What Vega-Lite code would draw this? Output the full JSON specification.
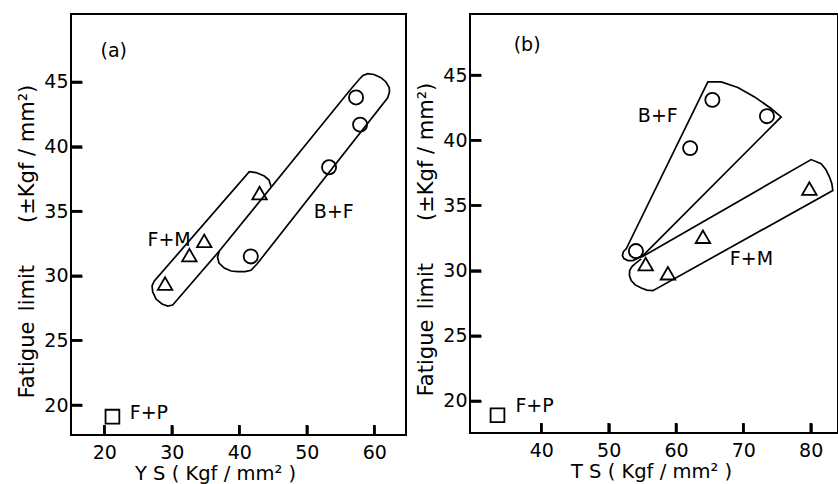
{
  "$schema": "https://vega.github.io/schema/vega-lite/v6.json",
  "padding": {"left": 15, "top": 13, "right": 0, "bottom": 0},
  "spacing": 7,
  "background": "white",
  "config": {
    "view": {"stroke": "black", "strokeWidth": 2},
    "font": "DejaVu Sans",
    "axis": {
      "grid": false,
      "domain": false,
      "labelFont": "DejaVu Sans",
      "labelFontSize": 19,
      "labelColor": "black",
      "titleFont": "DejaVu Sans",
      "titleFontWeight": "normal",
      "titleColor": "black"
    }
  },
  "datasets": {
    "a_pts": [
      {"x": 29.0, "y": 29.4, "phase": "F+M"},
      {"x": 32.6, "y": 31.6, "phase": "F+M"},
      {"x": 34.8, "y": 32.7, "phase": "F+M"},
      {"x": 43.0, "y": 36.4, "phase": "F+M"},
      {"x": 41.7, "y": 31.5, "phase": "B+F"},
      {"x": 53.3, "y": 38.4, "phase": "B+F"},
      {"x": 57.3, "y": 43.8, "phase": "B+F"},
      {"x": 57.9, "y": 41.7, "phase": "B+F"},
      {"x": 21.2, "y": 19.1, "phase": "F+P"}
    ],
    "b_pts": [
      {"x": 54.05, "y": 31.5, "phase": "B+F"},
      {"x": 62.1, "y": 39.4, "phase": "B+F"},
      {"x": 65.4, "y": 43.1, "phase": "B+F"},
      {"x": 73.5, "y": 41.85, "phase": "B+F"},
      {"x": 55.5, "y": 30.5, "phase": "F+M"},
      {"x": 58.8, "y": 29.8, "phase": "F+M"},
      {"x": 64.0, "y": 32.6, "phase": "F+M"},
      {"x": 79.8, "y": 36.3, "phase": "F+M"},
      {"x": 33.5, "y": 18.9, "phase": "F+P"}
    ],
    "a_xticks": [{"v": 20}, {"v": 30}, {"v": 40}, {"v": 50}, {"v": 60}],
    "b_xticks": [{"v": 40}, {"v": 50}, {"v": 60}, {"v": 70}, {"v": 80}],
    "yticks": [{"v": 20}, {"v": 25}, {"v": 30}, {"v": 35}, {"v": 40}, {"v": 45}],
    "a_outline": [
      {"g": "F+M", "i": 1, "x": 44.70, "y": 36.91},
      {"g": "F+M", "i": 2, "x": 44.40, "y": 37.41},
      {"g": "F+M", "i": 3, "x": 43.70, "y": 37.72},
      {"g": "F+M", "i": 4, "x": 42.47, "y": 37.99},
      {"g": "F+M", "i": 5, "x": 41.48, "y": 38.06},
      {"g": "F+M", "i": 6, "x": 27.41, "y": 29.60},
      {"g": "F+M", "i": 7, "x": 27.07, "y": 29.21},
      {"g": "F+M", "i": 8, "x": 27.17, "y": 28.75},
      {"g": "F+M", "i": 9, "x": 27.66, "y": 28.20},
      {"g": "F+M", "i": 10, "x": 28.55, "y": 27.82},
      {"g": "F+M", "i": 11, "x": 29.39, "y": 27.66},
      {"g": "F+M", "i": 12, "x": 30.13, "y": 27.74},
      {"g": "F+M", "i": 13, "x": 37.04, "y": 31.92},
      {"g": "B+F", "i": 1, "x": 37.04, "y": 31.92},
      {"g": "B+F", "i": 2, "x": 36.77, "y": 31.46},
      {"g": "B+F", "i": 3, "x": 36.99, "y": 30.99},
      {"g": "B+F", "i": 4, "x": 37.78, "y": 30.60},
      {"g": "B+F", "i": 5, "x": 38.77, "y": 30.37},
      {"g": "B+F", "i": 6, "x": 39.76, "y": 30.32},
      {"g": "B+F", "i": 7, "x": 40.84, "y": 30.33},
      {"g": "B+F", "i": 8, "x": 41.73, "y": 30.43},
      {"g": "B+F", "i": 9, "x": 42.62, "y": 30.91},
      {"g": "B+F", "i": 10, "x": 61.99, "y": 43.78},
      {"g": "B+F", "i": 11, "x": 62.25, "y": 44.23},
      {"g": "B+F", "i": 12, "x": 62.22, "y": 44.56},
      {"g": "B+F", "i": 13, "x": 61.73, "y": 45.00},
      {"g": "B+F", "i": 14, "x": 61.00, "y": 45.33},
      {"g": "B+F", "i": 15, "x": 59.96, "y": 45.58},
      {"g": "B+F", "i": 16, "x": 59.02, "y": 45.64},
      {"g": "B+F", "i": 17, "x": 58.33, "y": 45.50},
      {"g": "B+F", "i": 18, "x": 57.78, "y": 45.21},
      {"g": "B+F", "i": 19, "x": 56.30, "y": 44.30},
      {"g": "B+F", "i": 20, "x": 37.04, "y": 31.92}
    ],
    "b_outline": [
      {"g": "B+F", "i": 1, "x": 55.09, "y": 31.15},
      {"g": "B+F", "i": 2, "x": 75.61, "y": 41.79},
      {"g": "B+F", "i": 3, "x": 74.12, "y": 42.44},
      {"g": "B+F", "i": 4, "x": 71.66, "y": 43.33},
      {"g": "B+F", "i": 5, "x": 69.18, "y": 44.05},
      {"g": "B+F", "i": 6, "x": 66.71, "y": 44.48},
      {"g": "B+F", "i": 7, "x": 64.73, "y": 44.48},
      {"g": "B+F", "i": 8, "x": 52.61, "y": 31.67},
      {"g": "B+F", "i": 9, "x": 52.20, "y": 31.46},
      {"g": "B+F", "i": 10, "x": 52.05, "y": 31.15},
      {"g": "B+F", "i": 11, "x": 52.27, "y": 30.92},
      {"g": "B+F", "i": 12, "x": 52.86, "y": 30.77},
      {"g": "B+F", "i": 13, "x": 53.61, "y": 30.77},
      {"g": "B+F", "i": 14, "x": 55.09, "y": 31.15},
      {"g": "F+M", "i": 1, "x": 54.84, "y": 31.02},
      {"g": "F+M", "i": 2, "x": 80.06, "y": 38.52},
      {"g": "F+M", "i": 3, "x": 81.54, "y": 38.21},
      {"g": "F+M", "i": 4, "x": 82.24, "y": 37.77},
      {"g": "F+M", "i": 5, "x": 82.79, "y": 37.18},
      {"g": "F+M", "i": 6, "x": 83.13, "y": 36.69},
      {"g": "F+M", "i": 7, "x": 83.28, "y": 36.15},
      {"g": "F+M", "i": 8, "x": 56.57, "y": 28.46},
      {"g": "F+M", "i": 9, "x": 55.68, "y": 28.50},
      {"g": "F+M", "i": 10, "x": 54.84, "y": 28.67},
      {"g": "F+M", "i": 11, "x": 53.90, "y": 28.92},
      {"g": "F+M", "i": 12, "x": 53.35, "y": 29.23},
      {"g": "F+M", "i": 13, "x": 53.09, "y": 29.62},
      {"g": "F+M", "i": 14, "x": 53.12, "y": 30.00},
      {"g": "F+M", "i": 15, "x": 53.46, "y": 30.31},
      {"g": "F+M", "i": 16, "x": 53.90, "y": 30.52},
      {"g": "F+M", "i": 17, "x": 54.84, "y": 30.90}
    ],
    "a_labels": [
      {"x": 21.4, "y": 47.4, "text": "(a)"},
      {"x": 29.6, "y": 32.8, "text": "F+M"},
      {"x": 54.0, "y": 34.9, "text": "B+F"},
      {"x": 26.6, "y": 19.4, "text": "F+P"}
    ],
    "b_labels": [
      {"x": 37.9, "y": 47.3, "text": "(b)"},
      {"x": 57.3, "y": 41.9, "text": "B+F"},
      {"x": 71.2, "y": 30.9, "text": "F+M"},
      {"x": 39.0, "y": 19.6, "text": "F+P"}
    ]
  },
  "hconcat": [
    {
      "width": 335,
      "height": 421,
      "layer": [
        {
          "data": {"name": "a_outline"},
          "mark": {"type": "line", "color": "black", "strokeWidth": 1.7, "interpolate": "linear"},
          "encoding": {
            "x": {"field": "x", "type": "quantitative", "scale": {"domain": [15.06, 64.7], "nice": false, "zero": false},
                  "axis": {"values": [20, 30, 40, 50, 60], "title": "Y S ( Kgf / mm² )", "titleX": 144,
                           "offset": -10, "tickSize": 10, "tickColor": "black", "tickWidth": 2.5, "labelPadding": 8, "titleFontSize": 19.5, "titlePadding": 2}},
            "y": {"field": "y", "type": "quantitative", "scale": {"domain": [17.68, 50.26], "nice": false, "zero": false},
                  "axis": {"values": [20, 25, 30, 35, 40, 45], "title": "Fatigue\u2002limit\u2003\u2003(±Kgf / mm²)", "titleY": 227,
                           "offset": -11, "tickSize": 11, "tickColor": "black", "tickWidth": 2.5, "labelPadding": 3, "titleFontSize": 21, "titlePadding": 6}},
            "detail": {"field": "g"},
            "order": {"field": "i", "type": "quantitative"}
          }
        },
        {
          "data": {"name": "a_xticks"},
          "mark": {"type": "tick", "orient": "vertical", "color": "black", "size": 20, "thickness": 2.5, "clip": true, "opacity": 1},
          "encoding": {
            "x": {"field": "v", "type": "quantitative"},
            "y": {"datum": 17.68, "type": "quantitative"}
          }
        },
        {
          "data": {"name": "yticks"},
          "mark": {"type": "tick", "orient": "horizontal", "color": "black", "size": 22, "thickness": 2.5, "clip": true, "opacity": 1},
          "encoding": {
            "y": {"field": "v", "type": "quantitative"},
            "x": {"datum": 15.06, "type": "quantitative"}
          }
        },
        {
          "data": {"name": "a_pts"},
          "mark": {"type": "point", "color": "black", "strokeWidth": 1.8, "filled": false, "opacity": 1},
          "encoding": {
            "x": {"field": "x", "type": "quantitative"},
            "y": {"field": "y", "type": "quantitative"},
            "shape": {"field": "phase", "type": "nominal", "legend": null,
                      "scale": {"domain": ["F+M", "B+F", "F+P"], "range": ["triangle-up", "circle", "square"]}},
            "size": {"field": "phase", "type": "nominal", "legend": null,
                     "scale": {"domain": ["F+M", "B+F", "F+P"], "range": [210, 190, 110]}}
          }
        },
        {
          "data": {"name": "a_labels"},
          "mark": {"type": "text", "color": "black", "fontSize": 19, "font": "DejaVu Sans"},
          "encoding": {
            "x": {"field": "x", "type": "quantitative"},
            "y": {"field": "y", "type": "quantitative"},
            "text": {"field": "text"}
          }
        }
      ]
    },
    {
      "width": 368,
      "height": 419,
      "layer": [
        {
          "data": {"name": "b_outline"},
          "mark": {"type": "line", "color": "black", "strokeWidth": 1.7, "interpolate": "linear"},
          "encoding": {
            "x": {"field": "x", "type": "quantitative", "scale": {"domain": [29.42, 84.05], "nice": false, "zero": false},
                  "axis": {"values": [40, 50, 60, 70, 80], "title": "T S ( Kgf / mm² )", "titleX": 181,
                           "offset": -10, "tickSize": 10, "tickColor": "black", "tickWidth": 2.5, "labelPadding": 8, "titleFontSize": 19.5, "titlePadding": 2}},
            "y": {"field": "y", "type": "quantitative", "scale": {"domain": [17.54, 49.69], "nice": false, "zero": false},
                  "axis": {"values": [20, 25, 30, 35, 40, 45], "title": "Fatigue\u2002limit\u2003\u2003(±Kgf / mm²)", "titleY": 225,
                           "offset": -11, "tickSize": 11, "tickColor": "black", "tickWidth": 2.5, "labelPadding": 3, "titleFontSize": 21, "titlePadding": 6}},
            "detail": {"field": "g"},
            "order": {"field": "i", "type": "quantitative"}
          }
        },
        {
          "data": {"name": "b_xticks"},
          "mark": {"type": "tick", "orient": "vertical", "color": "black", "size": 20, "thickness": 2.5, "clip": true, "opacity": 1},
          "encoding": {
            "x": {"field": "v", "type": "quantitative"},
            "y": {"datum": 17.54, "type": "quantitative"}
          }
        },
        {
          "data": {"name": "yticks"},
          "mark": {"type": "tick", "orient": "horizontal", "color": "black", "size": 22, "thickness": 2.5, "clip": true, "opacity": 1},
          "encoding": {
            "y": {"field": "v", "type": "quantitative"},
            "x": {"datum": 29.42, "type": "quantitative"}
          }
        },
        {
          "data": {"name": "b_pts"},
          "mark": {"type": "point", "color": "black", "strokeWidth": 1.8, "filled": false, "opacity": 1},
          "encoding": {
            "x": {"field": "x", "type": "quantitative"},
            "y": {"field": "y", "type": "quantitative"},
            "shape": {"field": "phase", "type": "nominal", "legend": null,
                      "scale": {"domain": ["F+M", "B+F", "F+P"], "range": ["triangle-up", "circle", "square"]}},
            "size": {"field": "phase", "type": "nominal", "legend": null,
                     "scale": {"domain": ["F+M", "B+F", "F+P"], "range": [210, 190, 110]}}
          }
        },
        {
          "data": {"name": "b_labels"},
          "mark": {"type": "text", "color": "black", "fontSize": 19, "font": "DejaVu Sans"},
          "encoding": {
            "x": {"field": "x", "type": "quantitative"},
            "y": {"field": "y", "type": "quantitative"},
            "text": {"field": "text"}
          }
        }
      ]
    }
  ],
  "resolve": {"scale": {"shape": "independent", "size": "independent"}}
}
